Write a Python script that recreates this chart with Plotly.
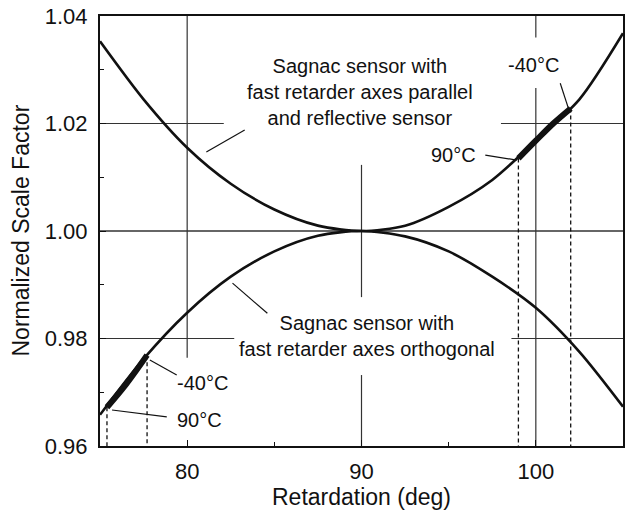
import plotly.graph_objects as go

# ---- data ----
retardation = [75, 77.5, 80, 82.5, 85, 87.5, 90, 92.5, 95, 97.5, 100, 102.5, 105]
sf_parallel = [1.0353, 1.0245, 1.0155, 1.0088, 1.0040, 1.0010, 1.0000, 1.0010,
               1.0045, 1.0095, 1.0168, 1.0245, 1.0368]
sf_orthogonal = [0.9658, 0.9762, 0.9848, 0.9915, 0.9962, 0.9991, 1.0000, 0.9990,
                 0.9962, 0.9915, 0.9857, 0.9775, 0.9673]

# temperature ranges (-40 C .. 90 C)
temp_par_x = [99.0, 100.0, 101.0, 102.0]
temp_par_y = [1.0135, 1.0168, 1.0200, 1.0228]
temp_orth_x = [75.4, 76.5, 77.7]
temp_orth_y = [0.9672, 0.9715, 0.9769]

x_ticks = [80, 90, 100]
y_ticks = [0.96, 0.98, 1.00, 1.02, 1.04]
y_tick_text = ["0.96", "0.98", "1.00", "1.02", "1.04"]

FONT = "Liberation Sans, Arial, Helvetica, sans-serif"
INK = "#111111"

fig = go.Figure()

fig.add_trace(go.Scatter(x=retardation, y=sf_parallel, mode="lines",
                         line=dict(color=INK, width=2.6, shape="spline", smoothing=0.8),
                         hoverinfo="skip", showlegend=False))
fig.add_trace(go.Scatter(x=retardation, y=sf_orthogonal, mode="lines",
                         line=dict(color=INK, width=2.6, shape="spline", smoothing=0.8),
                         hoverinfo="skip", showlegend=False))
fig.add_trace(go.Scatter(x=temp_par_x, y=temp_par_y, mode="lines",
                         line=dict(color=INK, width=6, shape="spline"),
                         hoverinfo="skip", showlegend=False))
fig.add_trace(go.Scatter(x=temp_orth_x, y=temp_orth_y, mode="lines",
                         line=dict(color=INK, width=6, shape="spline"),
                         hoverinfo="skip", showlegend=False))

shapes = []
def seg(x0, y0, x1, y1, width=1.3, dash="solid", color=INK):
    shapes.append(dict(type="line", xref="x", yref="y", x0=x0, y0=y0, x1=x1, y1=y1,
                       line=dict(color=color, width=width, dash=dash), layer="below"))

# cross-hair grid segments
g = "#333333"
seg(80, 1.04, 80, 0.9764, 1.2, color=g)
seg(75, 1.02, 82.1, 1.02, 1.2, color=g)
seg(75, 0.98, 82.7, 0.98, 1.2, color=g)
seg(75, 1.00, 105, 1.00, 1.3, color=g)
seg(90, 1.0123, 90, 0.9877, 1.2, color=g)
seg(90, 0.9732, 90, 0.96, 1.2, color=g)
seg(100, 1.04, 100, 1.036, 1.2, color=g)
seg(100, 1.0266, 100, 0.96, 1.2, color=g)
seg(98.0, 1.02, 105, 1.02, 1.2, color=g)
seg(98.6, 0.98, 105, 0.98, 1.2, color=g)

# dashed drop lines for temperature ranges
dsh = "4px,3px"
seg(temp_orth_x[0], temp_orth_y[0], temp_orth_x[0], 0.96, 1.3, dsh)
seg(temp_orth_x[-1], temp_orth_y[-1], temp_orth_x[-1], 0.96, 1.3, dsh)
seg(temp_par_x[0], temp_par_y[0], temp_par_x[0], 0.96, 1.3, dsh)
seg(temp_par_x[-1], temp_par_y[-1], temp_par_x[-1], 0.96, 1.3, dsh)

# leader lines
seg(81.1, 1.0147, 83.3, 1.0188, 1.2)
seg(82.6, 0.9903, 84.6, 0.9847, 1.2)
seg(101.4, 1.0275, 101.86, 1.0229, 1.2)
seg(97.1, 1.0141, 98.9, 1.0132, 1.2)
seg(77.86, 0.9760, 79.4, 0.9732, 1.2)
seg(75.69, 0.9667, 78.83, 0.9654, 1.2)

fig.update_layout(shapes=shapes)

ann_font = dict(family=FONT, size=20, color=INK)
annotations = [
    dict(x=89.9, y=1.0259, text="Sagnac sensor with<br>fast retarder axes parallel<br>and reflective sensor"),
    dict(x=90.3, y=0.9805, text="Sagnac sensor with<br>fast retarder axes orthogonal"),
    dict(x=99.86, y=1.0309, text="-40°C"),
    dict(x=95.3, y=1.0141, text="90°C"),
    dict(x=80.9, y=0.9717, text="-40°C"),
    dict(x=80.7, y=0.9648, text="90°C"),
]
for a in annotations:
    a.update(xref="x", yref="y", showarrow=False, font=ann_font, align="center")

annotations.append(dict(xref="paper", yref="paper", x=0.5, y=-0.119, yanchor="middle",
                        text="Retardation (deg)", showarrow=False,
                        font=dict(family=FONT, size=23, color=INK)))
annotations.append(dict(xref="paper", yref="paper", x=-0.152, y=0.5, xanchor="center",
                        yanchor="middle", textangle=-90,
                        text="Normalized Scale Factor", showarrow=False,
                        font=dict(family=FONT, size=23, color=INK)))
fig.update_layout(annotations=annotations)

fig.update_layout(
    width=626, height=518,
    margin=dict(l=100, r=1, t=16, b=72),
    paper_bgcolor="white", plot_bgcolor="white",
    font=dict(family=FONT, color=INK),
    xaxis=dict(range=[75, 105], tickvals=x_ticks, ticks="inside", ticklen=6,
               tickcolor=INK, showgrid=False, zeroline=False,
               showline=True, linecolor=INK, linewidth=2, mirror=True,
               tickfont=dict(family=FONT, size=22, color=INK), ticklabelstandoff=5,
               minor=dict(tickvals=[85, 95], ticks="inside", ticklen=4, tickcolor=INK)),
    yaxis=dict(range=[0.96, 1.04], tickvals=y_ticks, ticktext=y_tick_text,
               ticks="inside", ticklen=6, tickcolor=INK, showgrid=False, zeroline=False,
               showline=True, linecolor=INK, linewidth=2, mirror=True,
               tickfont=dict(family=FONT, size=22, color=INK), ticklabelstandoff=6,
               minor=dict(tickvals=[0.97, 0.99, 1.01, 1.03], ticks="inside", ticklen=4,
                          tickcolor=INK)),
)

fig.write_html("out.html")
